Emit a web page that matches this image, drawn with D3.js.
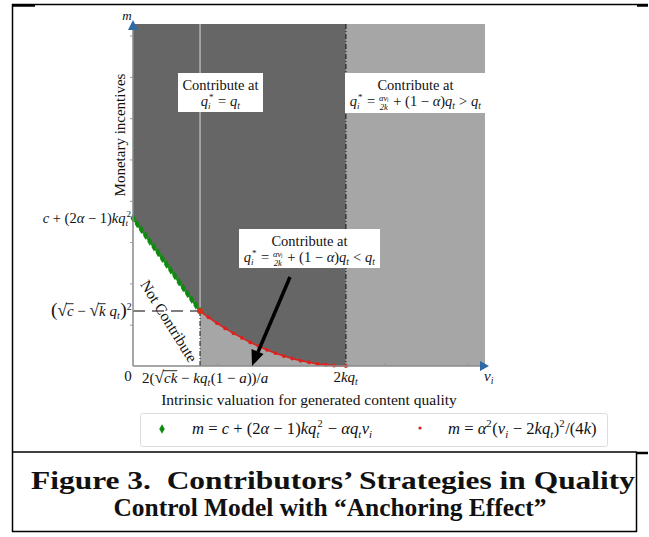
<!DOCTYPE html>
<html><head><meta charset="utf-8">
<script src="https://cdn.jsdelivr.net/npm/d3@7/dist/d3.min.js"></script>
<style>body{margin:0;background:#fff}svg{display:block}text{font-family:"Liberation Serif","Times New Roman",serif;fill:#111;white-space:pre}</style>
</head><body><svg id="c" width="649" height="537"></svg>
<script>
// ---- data ----
const vDomain = [0, 4.2];
const mDomain = [0, 8.28];
const xTickValues = [1, 2, 3, 4];
const yTickValues = [1, 2, 3, 4, 5, 6, 7, 8];
const vThreshold = 0.8;      // 2(√ck − kq_t(1−a))/a
const vPeak = 2.54;          // 2kq_t
const mIntercept = 3.58;     // c + (2α−1)kq_t²
const mJunction = 1.33;      // (√c − √k q_t)²
const greenV = [0,0.05,0.10,0.15,0.20,0.25,0.30,0.35,0.40,0.45,0.50,0.55,0.60,0.65,0.70,0.75,0.80];
const greenM = [3.58,3.44,3.30,3.16,3.02,2.88,2.74,2.60,2.46,2.32,2.18,2.03,1.89,1.75,1.61,1.47,1.33];
const redV = [0.80,0.90,1.00,1.10,1.20,1.30,1.40,1.50,1.60,1.70,1.80,1.90,2.00,2.10,2.20,2.30,2.40,2.54];
const redM = [1.33,1.18,1.04,0.91,0.79,0.68,0.57,0.48,0.39,0.31,0.24,0.18,0.13,0.09,0.05,0.03,0.01,0.00];
const captionLines = ["Figure 3.  Contributors\u2019 Strategies in Quality", "Control Model with \u201CAnchoring Effect\u201D"];

const SERIF = "'Liberation Serif', 'Times New Roman', serif";
const svg = d3.select("#c");
const x = d3.scaleLinear(vDomain, [133, 485]);
const y = d3.scaleLinear(mDomain, [366, 24]);
const green = greenV.map((v,i)=>({v, m: greenM[i]}));
const red = redV.map((v,i)=>({v, m: redM[i]}));
const curve = green.concat(red.slice(1));

// ---- frame ----
const frame = svg.append("g").attr("stroke", "#000");
frame.append("line").attr("x1",12).attr("x2",648).attr("y1",4.5).attr("y2",4.5).attr("stroke-width",1.5);
frame.append("line").attr("x1",12).attr("x2",35).attr("y1",5.5).attr("y2",5.5).attr("stroke-width",2.5);
frame.append("line").attr("x1",637).attr("x2",648).attr("y1",5.5).attr("y2",5.5).attr("stroke-width",2.5);
frame.append("line").attr("x1",12.5).attr("x2",12.5).attr("y1",4).attr("y2",532).attr("stroke-width",1.5);
frame.append("line").attr("x1",12).attr("x2",637).attr("y1",452).attr("y2",452).attr("stroke-width",1.5);
frame.append("line").attr("x1",637).attr("x2",648).attr("y1",453).attr("y2",453).attr("stroke-width",2.5);
frame.append("line").attr("x1",636.5).attr("x2",636.5).attr("y1",452).attr("y2",532).attr("stroke-width",1.5);
frame.append("line").attr("x1",12).attr("x2",637).attr("y1",531.5).attr("y2",531.5).attr("stroke-width",1.5);

// ---- regions ----
const mTop = mDomain[1];
svg.append("path").datum(curve)
  .attr("fill", "#666666")
  .attr("d", d3.area().x(d=>x(d.v)).y0(y(mTop)).y1(d=>y(d.m)));
svg.append("path").datum(red)
  .attr("fill", "#a6a6a6")
  .attr("d", d3.area().x(d=>x(d.v)).y0(y(0)).y1(d=>y(d.m)));
svg.append("rect").attr("x", x(vPeak)).attr("y", y(mTop))
  .attr("width", x(vDomain[1]) - x(vPeak)).attr("height", y(0) - y(mTop)).attr("fill", "#a6a6a6");

// ---- boundary lines ----
svg.append("line").attr("x1", x(vThreshold)).attr("x2", x(vThreshold)).attr("y1", y(mTop)).attr("y2", y(mJunction))
  .attr("stroke", "#b4b4b4").attr("stroke-width", 1.5);
svg.append("line").attr("x1", x(vThreshold)).attr("x2", x(vThreshold)).attr("y1", y(mJunction)).attr("y2", y(0))
  .attr("stroke", "#333").attr("stroke-width", 1.2).attr("stroke-dasharray", "5,2,1,2");
svg.append("line").attr("x1", x(vPeak)).attr("x2", x(vPeak)).attr("y1", y(mTop)).attr("y2", y(0))
  .attr("stroke", "#222").attr("stroke-width", 1.2).attr("stroke-dasharray", "5,2,1,2");
svg.append("line").attr("x1", x(0)).attr("x2", x(vThreshold)).attr("y1", y(mJunction)).attr("y2", y(mJunction))
  .attr("stroke", "#555").attr("stroke-width", 1.5).attr("stroke-dasharray", "12,7");

// ---- curves ----
const line = d3.line().x(d=>x(d.v)).y(d=>y(d.m));
svg.append("path").datum(green).attr("d", line).attr("fill","none").attr("stroke","#1f8f1f").attr("stroke-width",2.5);
svg.selectAll(".gd").data(green).join("path").attr("class","gd")
  .attr("transform", d=>`translate(${x(d.v)},${y(d.m)})`)
  .attr("d", d3.symbol(d3.symbolDiamond, 22)).attr("fill", "#0f8a0f");
svg.append("path").datum(red).attr("d", line).attr("fill","none").attr("stroke","#e0201c").attr("stroke-width",1.6);
svg.selectAll(".rd").data(red).join("circle").attr("class","rd")
  .attr("cx", d=>x(d.v)).attr("cy", d=>y(d.m)).attr("r", 1.9).attr("fill", "#e0201c");
svg.append("circle").attr("cx", x(vThreshold)).attr("cy", y(mJunction)).attr("r", 3).attr("fill", "#d2301a");

// ---- axes ----
const axG = svg.append("g");
axG.append("line").attr("x1", x(0)).attr("x2", 482).attr("y1", y(0)).attr("y2", y(0)).attr("stroke", "#8a8a8a").attr("stroke-width", 1.5);
axG.append("line").attr("x1", x(0)).attr("x2", x(0)).attr("y1", y(0)).attr("y2", 28).attr("stroke", "#8a8a8a").attr("stroke-width", 1.5);
const yAx = svg.append("g").attr("transform", `translate(${x(0)},0)`)
  .call(d3.axisLeft(y).tickValues(yTickValues).tickSize(3).tickFormat(""));
yAx.select(".domain").remove(); yAx.selectAll("line").attr("stroke", "#999");
const xAx = svg.append("g").attr("transform", `translate(0,${y(0)})`)
  .call(d3.axisBottom(x).tickValues(xTickValues).tickSize(-3).tickFormat(""));
xAx.select(".domain").remove(); xAx.selectAll("line").attr("stroke", "#999");
svg.append("path").attr("d", `M${x(0)},20 L${x(0)-5},30 L${x(0)+5},30 Z`).attr("fill", "#2d6aa6");
svg.append("path").attr("d", `M489,${y(0)} L480,${y(0)-5} L480,${y(0)+5} Z`).attr("fill", "#2d6aa6");

// ---- math text helper ----
function mathText(parent, px, py, pieces, size, anchor) {
  const g = parent.append("g");
  let cx = 0;
  const mk = (txt, xx, yy, fs, it) => g.append("text").attr("x", xx).attr("y", yy)
      .attr("font-family", SERIF)
      .style("font-size", fs + "px").style("font-style", it ? "italic" : "normal").text(txt.replace(/ /g, "\u00A0"));
  pieces.forEach(p => {
    if (p.frac) {
      const fs = size * 0.6;
      const n = mk(p.frac[0], 0, -size * 0.36, fs, true);
      const d = mk(p.frac[1], 0, size * 0.26, fs, true);
      const w = Math.max(n.node().getComputedTextLength(), d.node().getComputedTextLength());
      n.attr("x", cx + w / 2).attr("text-anchor", "middle");
      d.attr("x", cx + w / 2).attr("text-anchor", "middle");
      cx += w + 1;
      return;
    }
    if (p.ss) {
      const fs = size * 0.62;
      const a = mk(p.ss[0], cx, size * 0.22, fs, true);
      const b = mk(p.ss[1], cx + 1, -size * 0.42, fs, false);
      cx += Math.max(a.node().getComputedTextLength(), b.node().getComputedTextLength() + 1) + 1;
      return;
    }
    if (p.sub !== undefined) {
      const t = mk(p.sub, cx, size * 0.22, size * 0.65, p.it);
      cx += t.node().getComputedTextLength() + 0.5;
      return;
    }
    if (p.sup !== undefined) {
      const t = mk(p.sup, cx, -size * 0.42, size * 0.65, false);
      cx += t.node().getComputedTextLength() + 0.5;
      return;
    }
    const fsz = size * (p.big || 1);
    const t = mk(p.t, cx, 0, fsz, p.it);
    const w = t.node().getComputedTextLength();
    if (p.over) g.append("line").attr("x1", cx - 1).attr("x2", cx + w).attr("y1", -size * 0.82).attr("y2", -size * 0.82)
      .attr("stroke", "#111").attr("stroke-width", 0.9);
    cx += w;
  });
  const shift = anchor === "middle" ? -cx / 2 : anchor === "end" ? -cx : 0;
  g.attr("transform", `translate(${px + shift},${py})`);
  return g;
}
const T = (t, it) => ({t, it});
function plain(xx, yy, txt, fs, anchor) {
  return svg.append("text").attr("x", xx).attr("y", yy).attr("text-anchor", anchor || "start")
    .attr("font-family", SERIF).style("font-size", fs + "px").text(txt);
}

// ---- axis labels ----
plain(127, 20, "m", 13, "middle").style("font-style", "italic");
mathText(svg, 484, 381, [T("v", true), {sub: "i", it: true}], 15, "start");
plain(128, 381, "0", 15, "middle");
mathText(svg, x(vPeak), 382, [T("2"), T("kq", true), {sub: "t", it: true}], 15, "middle");
mathText(svg, 142, 383, [T("2("), {t: "\u221A", big: 1.15}, {t: "ck", it: true, over: true}, T(" \u2212 "), T("kq", true), {sub: "t", it: true},
  T("(1 \u2212 "), T("a", true), T("))/"), T("a", true)], 15, "start");
mathText(svg, 132, 223, [T("c", true), T(" + (2"), T("\u03B1", true), T(" \u2212 1)"), T("kq", true), {ss: ["t", "2"]}], 14.5, "end");
mathText(svg, 132, 316, [{t: "(", big: 1.3}, {t: "\u221A", big: 1.15}, {t: "c", it: true, over: true}, T(" \u2212 "), {t: "\u221A", big: 1.15},
  {t: "k", it: true, over: true}, T(" "), T("q", true), {sub: "t", it: true}, {t: ")", big: 1.3}, {sup: "2"}], 15, "end");
plain(309, 405, "Intrinsic valuation for generated content quality", 15.5, "middle");
svg.append("text").attr("transform", "translate(125,135) rotate(-90)").attr("text-anchor", "middle")
  .attr("font-family", SERIF).style("font-size", "15px").text("Monetary incentives");
svg.append("text").attr("transform", "translate(169,321) rotate(58)").attr("text-anchor", "middle").attr("dy", "0.35em")
  .attr("font-family", SERIF).style("font-size", "15.5px").text("Not Contribute");

// ---- annotation boxes ----
function box(x0, y0, w, h, eqPieces) {
  svg.append("rect").attr("x", x0).attr("y", y0).attr("width", w).attr("height", h).attr("fill", "#fff");
  plain(x0 + w / 2, y0 + 17, "Contribute at", 14.5, "middle");
  mathText(svg, x0 + w / 2, y0 + 33, eqPieces, 14.5, "middle");
}
box(178, 73, 85, 39, [T("q", true), {ss: ["i", "*"]}, T(" = "), T("q", true), {sub: "t", it: true}]);
const eqHead = [T("q", true), {ss: ["i", "*"]}, T(" = "), {frac: ["\u03B1v\u1D62", "2k"]}, T(" + (1 \u2212 "), T("\u03B1", true), T(")"),
  T("q", true), {sub: "t", it: true}];
box(345, 73, 141, 40, eqHead.concat([T(" > "), T("q", true), {sub: "t", it: true}]));
box(239, 229, 141, 39, eqHead.concat([T(" < "), T("q", true), {sub: "t", it: true}]));

// ---- arrow ----
svg.append("line").attr("x1", 290).attr("y1", 277).attr("x2", 258).attr("y2", 352)
  .attr("stroke", "#000").attr("stroke-width", 3.5);
svg.append("path").attr("d", "M252,366 L251.5,349 L263.5,354 Z").attr("fill", "#000");

// ---- legend ----
svg.append("rect").attr("x", 140.5).attr("y", 413.5).attr("width", 467).attr("height", 33).attr("rx", 2)
  .attr("fill", "#fff").attr("stroke", "#dcdcdc");
svg.append("path").attr("transform", "translate(162,429)").attr("d", d3.symbol(d3.symbolDiamond, 26)).attr("fill", "#0f8a0f");
svg.append("circle").attr("cx", 420).attr("cy", 428).attr("r", 1.6).attr("fill", "#e0201c");
mathText(svg, 192, 434, [T("m", true), T(" = "), T("c", true), T(" + (2"), T("\u03B1", true), T(" \u2212 1)"), T("kq", true), {ss: ["t", "2"]},
  T(" \u2212 "), T("\u03B1q", true), {sub: "t", it: true}, T("v", true), {sub: "i", it: true}], 16.6, "start");
mathText(svg, 448, 434, [T("m", true), T(" = "), T("\u03B1", true), {sup: "2"}, T("("), T("v", true), {sub: "i", it: true}, T(" \u2212 2"),
  T("kq", true), {sub: "t", it: true}, T(")"), {sup: "2"}, T("/(4"), T("k", true), T(")")], 16.6, "start");

// ---- caption ----
svg.append("text").attr("x", 333).attr("y", 489).attr("text-anchor", "middle").attr("font-family", SERIF)
  .style("font-size", "25.5px").style("font-weight", "bold").attr("textLength", 604).attr("lengthAdjust", "spacingAndGlyphs")
  .text(captionLines[0]);
svg.append("text").attr("x", 330).attr("y", 516).attr("text-anchor", "middle").attr("font-family", SERIF)
  .style("font-size", "25.5px").style("font-weight", "bold").attr("textLength", 433).attr("lengthAdjust", "spacingAndGlyphs")
  .text(captionLines[1]);
</script></body></html>
